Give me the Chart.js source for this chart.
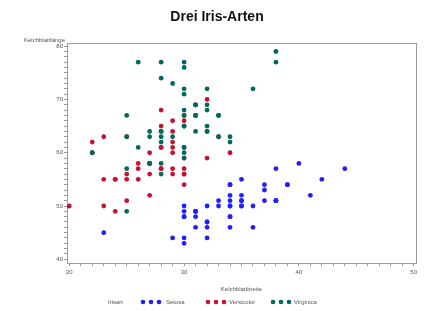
<!DOCTYPE html>
<html>
<head>
<meta charset="utf-8">
<script src="https://cdn.jsdelivr.net/npm/chart.js@4/dist/chart.umd.min.js"></script>
<style>
  html, body { margin: 0; padding: 0; background: #fff; }
  #wrap { width: 425px; height: 311px; }
</style>
</head>
<body>
<div id="wrap"><canvas id="irisChart" width="425" height="311"></canvas></div>
<script>
// Kelchblattbreite (x) / Kelchblattlänge (y) in mm
const setosaBreite = [35,30,32,31,36,39,34,34,29,31,37,34,30,30,40,44,39,35,38,38,34,37,36,33,34,30,34,35,34,32,31,34,41,42,31,32,35,31,30,34,35,23,32,35,38,30,38,32,37,33];
const setosaLaenge = [51,49,47,46,50,54,46,50,44,49,54,48,48,43,58,57,54,51,57,51,54,51,46,51,48,50,50,52,52,47,48,54,52,55,49,50,55,49,44,51,50,45,44,50,51,48,51,46,53,50];

const versicolorBreite = [32,32,31,23,28,28,33,24,29,27,20,30,22,29,29,31,30,27,22,25,32,28,25,28,29,30,28,30,29,26,24,24,27,27,30,34,31,23,30,25,26,30,26,23,27,30,29,29,25,28];
const versicolorLaenge = [70,64,69,55,65,57,63,49,66,52,50,59,60,61,56,67,56,58,62,56,59,61,63,61,64,66,68,67,60,57,55,55,58,60,54,60,67,63,56,55,55,61,58,50,56,57,57,62,51,57];

const virginicaBreite = [33,27,30,29,30,30,25,29,25,36,32,27,30,25,28,32,30,38,26,22,32,28,28,27,33,32,28,30,28,30,28,38,28,28,26,30,34,31,30,31,31,31,27,32,33,30,25,30,34,30];
const virginicaLaenge = [63,58,71,63,65,76,49,73,67,72,65,64,68,57,58,64,65,77,77,60,69,56,77,63,67,72,62,61,64,72,74,79,64,63,61,77,63,64,60,69,67,69,58,68,67,67,63,65,62,59];

const arten = ['Setosa', 'Versicolor', 'Virginica'];
const farben = ['#1f1fff', '#c4122f', '#00695c'];

const xTicks = [20, 30, 40, 50];
const yTicks = [40, 50, 60, 70, 80];

function punkte(xs, ys) {
  return xs.map((x, i) => ({ x: x, y: ys[i] }));
}

const frameColor = '#9a9a9a';
const textColor = '#555';

// frame, title, axis labels and legend
const extras = {
  id: 'extras',
  beforeDatasetsDraw(chart) {
    const a = chart.chartArea;
    const c = chart.ctx;
    c.save();
    c.strokeStyle = frameColor;
    c.lineWidth = 1;
    c.strokeRect(Math.round(a.left) + 0.5, Math.round(a.top) + 0.5, Math.round(a.right - a.left), Math.round(a.bottom - a.top));
    c.restore();
  },
  afterDraw(chart) {
    const c = chart.ctx;
    const a = chart.chartArea;
    c.save();
    c.fillStyle = '#111';
    c.font = 'bold 14px "Liberation Sans", Arial, sans-serif';
    c.textAlign = 'center';
    c.textBaseline = 'middle';
    c.fillText('Drei Iris-Arten', 217, 17);

    c.fillStyle = textColor;
    c.font = '6px "Liberation Sans", Arial, sans-serif';
    c.textAlign = 'right';
    c.fillText('Kelchblattlänge', 65, 40);

    c.textAlign = 'center';
    c.fillText('Kelchblattbreite', (a.left + a.right) / 2, 289);

    // legend
    const ly = 302;
    c.textAlign = 'left';
    c.fillText('Irisart', 108, ly);
    const items = [
      { dots: [143, 151, 159], text: 166 },
      { dots: [208, 216, 224], text: 229 },
      { dots: [273, 281, 289], text: 294 }
    ];
    items.forEach((it, i) => {
      c.fillStyle = farben[i];
      it.dots.forEach(dx => {
        c.beginPath();
        c.arc(dx, ly, 2.3, 0, Math.PI * 2);
        c.fill();
      });
      c.fillStyle = textColor;
      c.fillText(arten[i], it.text, ly);
    });
    c.restore();
  }
};

function minorTicks(lo, hi) {
  const t = [];
  for (let v = lo; v <= hi; v++) t.push({ value: v });
  return t;
}

const ctx = document.getElementById('irisChart').getContext('2d');
const chart = new Chart(ctx, {
  type: 'scatter',
  data: {
    datasets: [
      { label: arten[0], data: punkte(setosaBreite, setosaLaenge), backgroundColor: farben[0], order: 3 },
      { label: arten[1], data: punkte(versicolorBreite, versicolorLaenge), backgroundColor: farben[1], order: 2 },
      { label: arten[2], data: punkte(virginicaBreite, virginicaLaenge), backgroundColor: farben[2], order: 1 }
    ]
  },
  options: {
    responsive: false,
    animation: false,
    layout: { padding: { left: 0, top: 43, right: 9, bottom: 0 } },
    elements: { point: { radius: 2.4, borderWidth: 0, hoverRadius: 2.4 } },
    plugins: {
      legend: { display: false },
      title: { display: false },
      tooltip: { enabled: false }
    },
    scales: {
      x: {
        type: 'linear',
        min: 19.8,
        max: 50.2,
        afterBuildTicks: axis => { axis.ticks = minorTicks(xTicks[0], xTicks[xTicks.length - 1]); },
        afterFit: axis => { axis.height = 48; },
        ticks: {
          autoSkip: false,
          maxRotation: 0,
          padding: 3,
          color: textColor,
          font: { size: 6, family: '"Liberation Sans", Arial, sans-serif' },
          callback: v => xTicks.includes(v) ? String(v) : ''
        },
        grid: { drawOnChartArea: false, tickLength: 3, color: frameColor },
        border: { color: frameColor }
      },
      y: {
        type: 'linear',
        min: 39.3,
        max: 80.6,
        afterBuildTicks: axis => { axis.ticks = minorTicks(yTicks[0], yTicks[yTicks.length - 1]); },
        afterFit: axis => { axis.width = 67; },
        ticks: {
          autoSkip: false,
          padding: 1,
          color: textColor,
          font: { size: 6, family: '"Liberation Sans", Arial, sans-serif' },
          callback: v => yTicks.includes(v) ? String(v) : ''
        },
        grid: { drawOnChartArea: false, tickLength: 3, color: frameColor },
        border: { color: frameColor }
      }
    }
  },
  plugins: [extras]
});
</script>
</body>
</html>
